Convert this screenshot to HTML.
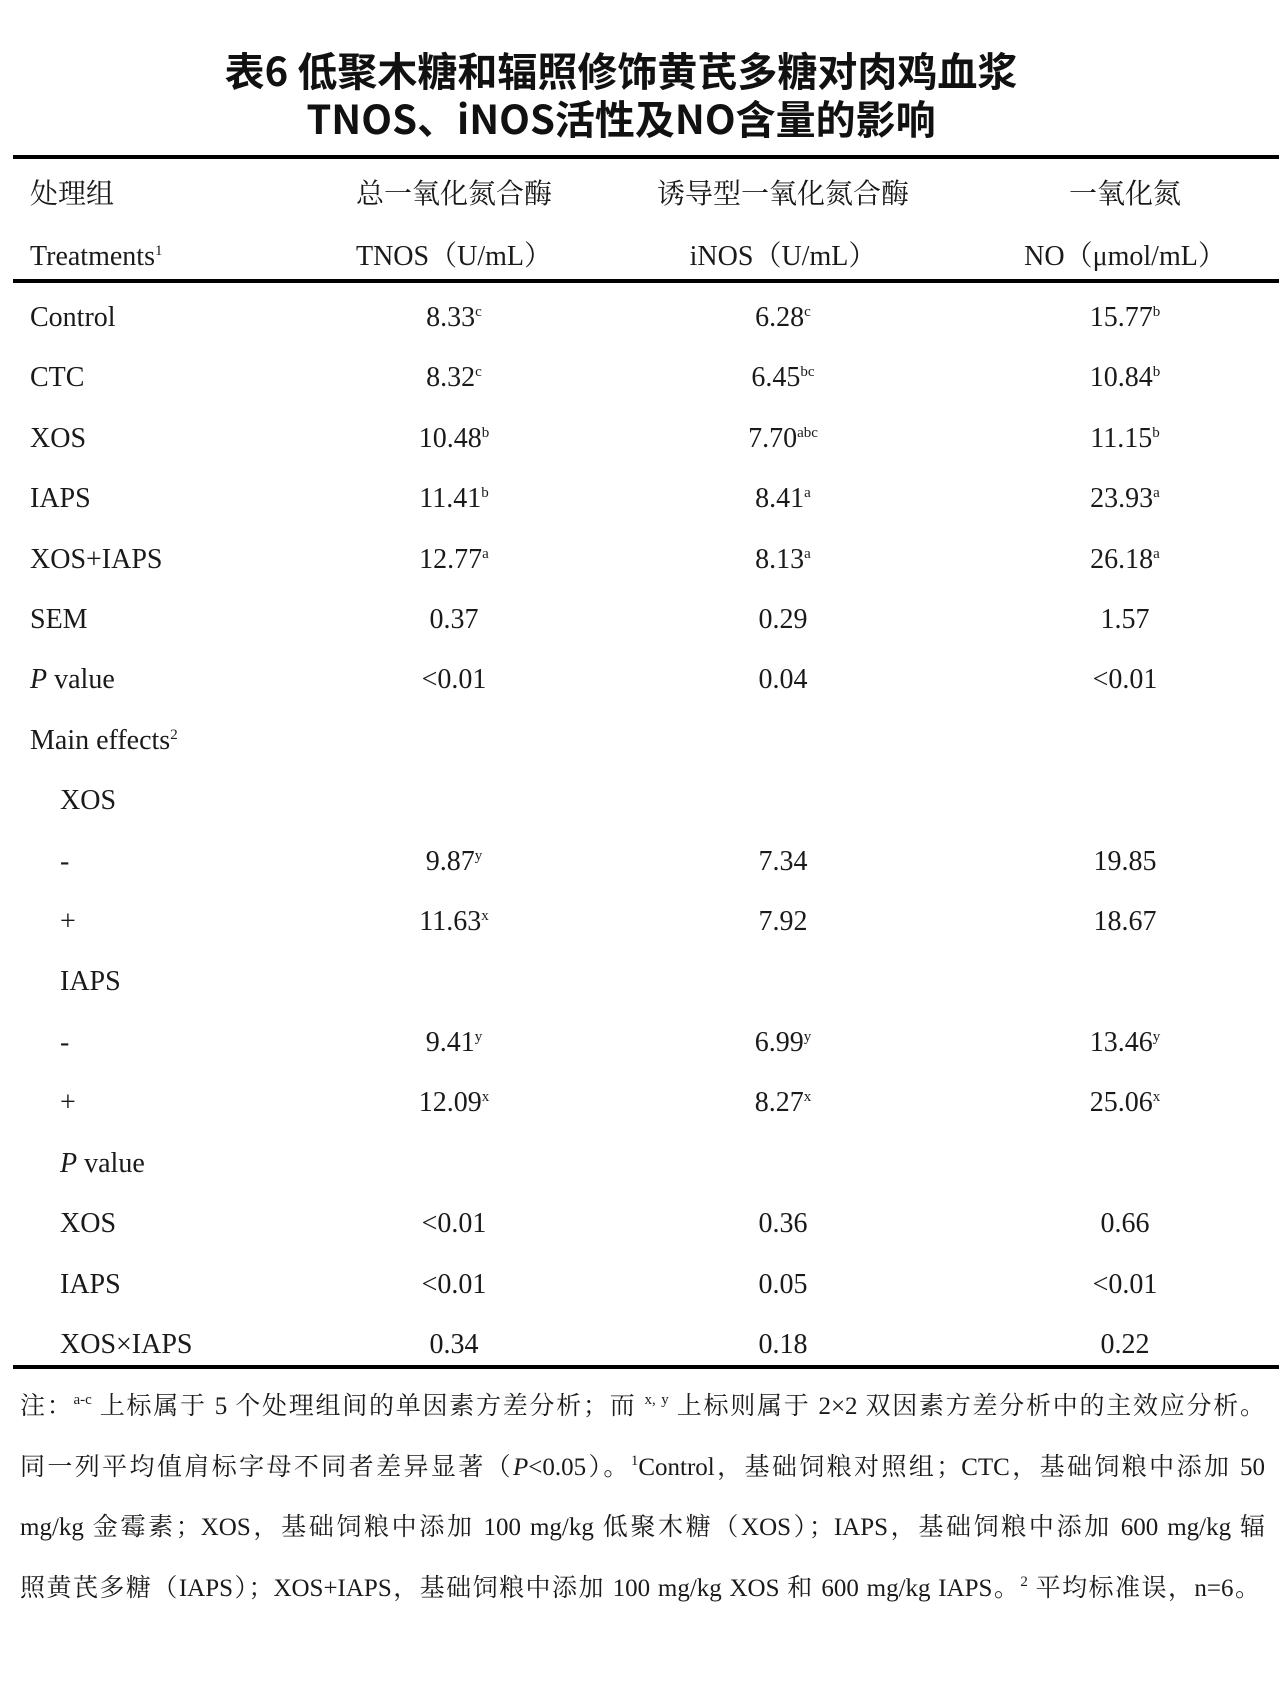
<!DOCTYPE html>
<html><head><meta charset="utf-8"><style>
html,body{margin:0;padding:0;background:#fff;}
body{width:1280px;height:1694px;position:relative;overflow:hidden;color:#1a1a1a;font-family:"Liberation Serif","Noto Serif CJK SC",serif;}
.t{position:absolute;left:0;width:1242px;text-align:center;font-family:"Noto Sans CJK SC",sans-serif;font-weight:bold;font-size:40px;line-height:48px;color:#111;}
.rule{position:absolute;left:13px;width:1266px;height:4px;background:#000;}
.r{position:absolute;left:0;width:1280px;height:34px;font-size:28px;line-height:34px;}
.r span{position:absolute;top:0;white-space:nowrap;}
.c1{left:30px;}
.ci{left:60px;}
.c2,.c3,.c4{width:300px;text-align:center;}
.c2{left:304px;}
.c3{left:633px;}
.c4{left:975px;}
sup{font-size:15px;line-height:0;vertical-align:10px;}
.fn{position:absolute;left:20px;width:1245px;font-size:25px;line-height:30px;text-align:justify;text-align-last:justify;white-space:nowrap;}
</style></head><body>
<div class="t" style="top:45px">表6 低聚木糖和辐照修饰黄芪多糖对肉鸡血浆</div>
<div class="t" style="top:93px">TNOS、iNOS活性及NO含量的影响</div>
<div class="rule" style="top:155px"></div>
<div class="r" style="top:178px"><span class="c1">处理组</span><span class="c2">总一氧化氮合酶</span><span class="c3">诱导型一氧化氮合酶</span><span class="c4">一氧化氮</span></div>
<div class="r" style="top:240px"><span class="c1">Treatments<sup>1</sup></span><span class="c2">TNOS（U/mL）</span><span class="c3">iNOS（U/mL）</span><span class="c4">NO（μmol/mL）</span></div>
<div class="rule" style="top:279px"></div>

<div class="r" style="top:301px"><span class="c1">Control</span><span class="c2">8.33<sup>c</sup></span><span class="c3">6.28<sup>c</sup></span><span class="c4">15.77<sup>b</sup></span></div>
<div class="r" style="top:361px"><span class="c1">CTC</span><span class="c2">8.32<sup>c</sup></span><span class="c3">6.45<sup>bc</sup></span><span class="c4">10.84<sup>b</sup></span></div>
<div class="r" style="top:422px"><span class="c1">XOS</span><span class="c2">10.48<sup>b</sup></span><span class="c3">7.70<sup>abc</sup></span><span class="c4">11.15<sup>b</sup></span></div>
<div class="r" style="top:482px"><span class="c1">IAPS</span><span class="c2">11.41<sup>b</sup></span><span class="c3">8.41<sup>a</sup></span><span class="c4">23.93<sup>a</sup></span></div>
<div class="r" style="top:543px"><span class="c1">XOS+IAPS</span><span class="c2">12.77<sup>a</sup></span><span class="c3">8.13<sup>a</sup></span><span class="c4">26.18<sup>a</sup></span></div>
<div class="r" style="top:603px"><span class="c1">SEM</span><span class="c2">0.37</span><span class="c3">0.29</span><span class="c4">1.57</span></div>
<div class="r" style="top:663px"><span class="c1"><i>P</i> value</span><span class="c2">&lt;0.01</span><span class="c3">0.04</span><span class="c4">&lt;0.01</span></div>
<div class="r" style="top:724px"><span class="c1">Main effects<sup>2</sup></span></div>
<div class="r" style="top:784px"><span class="ci">XOS</span></div>
<div class="r" style="top:845px"><span class="ci">-</span><span class="c2">9.87<sup>y</sup></span><span class="c3">7.34</span><span class="c4">19.85</span></div>
<div class="r" style="top:905px"><span class="ci">+</span><span class="c2">11.63<sup>x</sup></span><span class="c3">7.92</span><span class="c4">18.67</span></div>
<div class="r" style="top:965px"><span class="ci">IAPS</span></div>
<div class="r" style="top:1026px"><span class="ci">-</span><span class="c2">9.41<sup>y</sup></span><span class="c3">6.99<sup>y</sup></span><span class="c4">13.46<sup>y</sup></span></div>
<div class="r" style="top:1086px"><span class="ci">+</span><span class="c2">12.09<sup>x</sup></span><span class="c3">8.27<sup>x</sup></span><span class="c4">25.06<sup>x</sup></span></div>
<div class="r" style="top:1147px"><span class="ci"><i>P</i> value</span></div>
<div class="r" style="top:1207px"><span class="ci">XOS</span><span class="c2">&lt;0.01</span><span class="c3">0.36</span><span class="c4">0.66</span></div>
<div class="r" style="top:1268px"><span class="ci">IAPS</span><span class="c2">&lt;0.01</span><span class="c3">0.05</span><span class="c4">&lt;0.01</span></div>
<div class="r" style="top:1328px"><span class="ci">XOS×IAPS</span><span class="c2">0.34</span><span class="c3">0.18</span><span class="c4">0.22</span></div>
<div class="rule" style="top:1365px"></div>

<div class="fn" style="top:1392px">注：<sup>a-c</sup> 上标属于 5 个处理组间的单因素方差分析；而 <sup>x, y</sup> 上标则属于 2×2 双因素方差分析中的主效应分析。</div>
<div class="fn" style="top:1453px">同一列平均值肩标字母不同者差异显著（<i>P</i>&lt;0.05）。<sup>1</sup>Control，基础饲粮对照组；CTC，基础饲粮中添加 50</div>
<div class="fn" style="top:1513px">mg/kg 金霉素；XOS，基础饲粮中添加 100 mg/kg 低聚木糖（XOS）；IAPS，基础饲粮中添加 600 mg/kg 辐</div>
<div class="fn" style="top:1574px;width:1240px">照黄芪多糖（IAPS）；XOS+IAPS，基础饲粮中添加 100 mg/kg XOS 和 600 mg/kg IAPS。<sup>2</sup> 平均标准误，n=6。</div>
</body></html>
